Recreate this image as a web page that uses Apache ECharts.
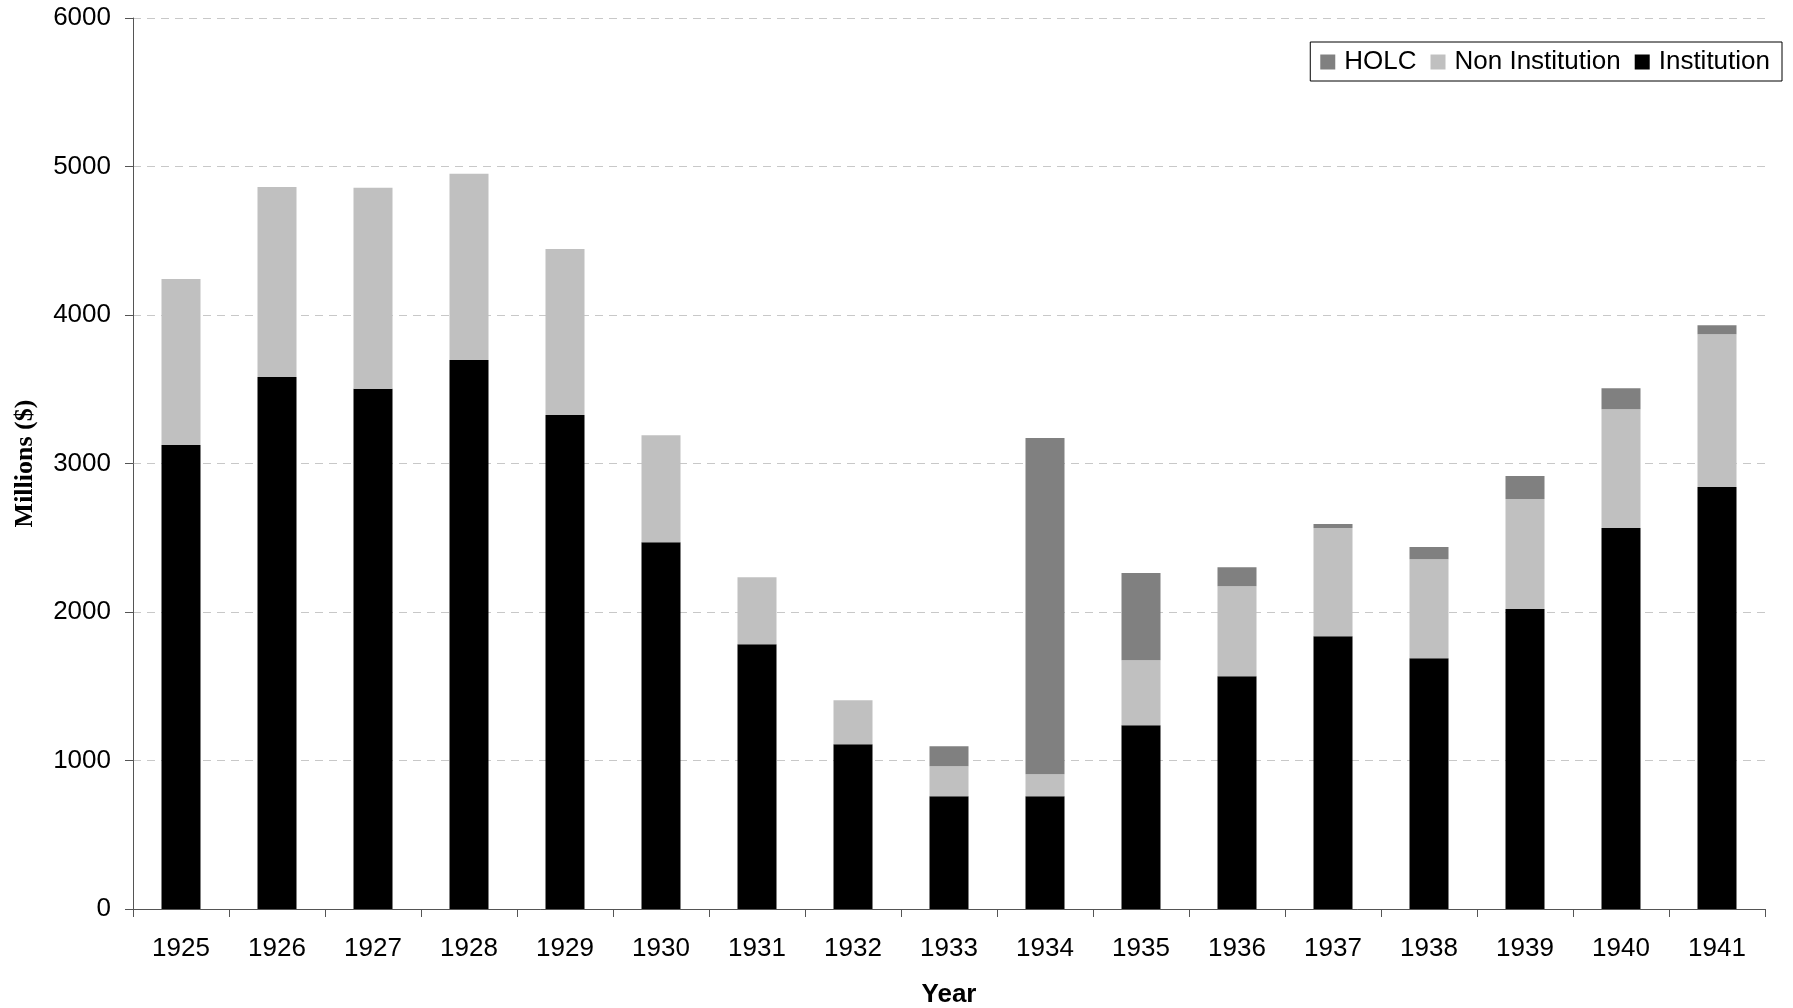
<!DOCTYPE html>
<html>
<head>
<meta charset="utf-8">
<title>Mortgage lending, 1925–1941</title>
<script src="https://cdn.jsdelivr.net/npm/echarts@6/dist/echarts.min.js"></script>
<style>
  html, body { margin: 0; padding: 0; background: #ffffff; }
  #chart { width: 1793px; height: 1008px; }
</style>
</head>
<body>
<div id="chart"></div>
<script>
// Annual mortgage lending, millions of dollars, by source
const years = ['1925', '1926', '1927', '1928', '1929', '1930', '1931', '1932', '1933',
               '1934', '1935', '1936', '1937', '1938', '1939', '1940', '1941'];
const institution    = [3125, 3583, 3503, 3697, 3327, 2470, 1783, 1110, 759,
                        759, 1238, 1568, 1837, 1689, 2020, 2565, 2841];
const nonInstitution = [1118, 1279, 1354, 1254, 1118, 721, 451, 296, 202,
                        149, 437, 606, 728, 667, 741, 801, 1030];
const holc           = [0, 0, 0, 0, 0, 0, 0, 0, 135,
                        2264, 587, 128, 27, 81, 155, 141, 60];
const yTicks = { min: 0, max: 6000, interval: 1000 };

const sans = '"Liberation Sans", Arial, Helvetica, sans-serif';
const serif = '"Liberation Serif", "Times New Roman", serif';

const chart = echarts.init(document.getElementById('chart'), null, { renderer: 'canvas' });

function barSeries(name, data, color) {
  return {
    name: name,
    type: 'bar',
    stack: 'total',
    data: data,
    barWidth: 39,
    itemStyle: { color: color },
    emphasis: { disabled: true }
  };
}

chart.setOption({
  animation: false,
  backgroundColor: '#ffffff',
  grid: {
    left: 133, right: 28, top: 18, bottom: 99,
    containLabel: false,
    outerBoundsMode: 'none'
  },
  legend: {
    data: ['HOLC', 'Non Institution', 'Institution'],
    right: 11,
    top: 42,
    orient: 'horizontal',
    itemWidth: 15,
    itemHeight: 15,
    itemGap: 14,
    padding: [7, 12, 6, 10],
    borderColor: '#000000',
    borderWidth: 1,
    icon: 'rect',
    textStyle: { fontFamily: sans, fontSize: 26, color: '#000000', padding: [0, 0, 0, 4] }
  },
  xAxis: {
    type: 'category',
    data: years,
    name: 'Year',
    nameLocation: 'middle',
    nameGap: 73,
    nameTextStyle: { fontFamily: sans, fontSize: 26, fontWeight: 'bold', color: '#000000' },
    axisLine: { lineStyle: { color: '#555555', width: 1 } },
    axisTick: { show: true, length: 8, lineStyle: { color: '#555555' } },
    axisLabel: { fontFamily: sans, fontSize: 26, color: '#000000', margin: 27 },
    splitLine: { show: false }
  },
  yAxis: {
    type: 'value',
    min: yTicks.min,
    max: yTicks.max,
    interval: yTicks.interval,
    name: 'Millions ($)',
    nameLocation: 'middle',
    nameGap: 95,
    nameTextStyle: { fontFamily: serif, fontSize: 26, fontWeight: 'bold', color: '#000000' },
    axisLine: { show: true, lineStyle: { color: '#555555', width: 1 } },
    axisTick: { show: true, length: 8, lineStyle: { color: '#555555' } },
    axisLabel: {
      fontFamily: sans, fontSize: 26, color: '#000000', margin: 22,
      formatter: function (v) { return String(v); }
    },
    splitLine: { show: true, lineStyle: { color: '#c8c8c8', type: [8, 6], width: 1 } }
  },
  series: [
    barSeries('Institution', institution, '#000000'),
    barSeries('Non Institution', nonInstitution, '#c0c0c0'),
    barSeries('HOLC', holc, '#808080')
  ]
});
</script>
</body>
</html>
